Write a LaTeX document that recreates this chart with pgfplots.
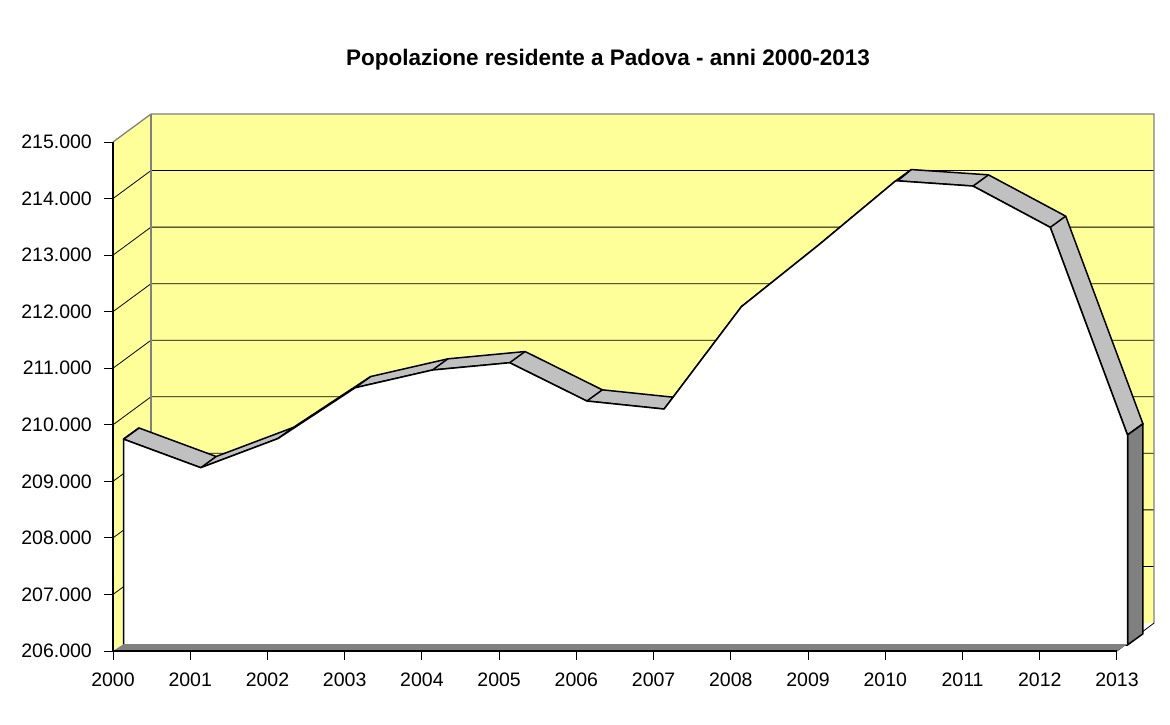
\documentclass[border=0pt]{standalone}
\usepackage{pgfplots}
\pgfplotsset{compat=1.18}
\usepgfplotslibrary{fillbetween}
\usepackage{pgfplotstable}
\usepackage{fontspec}
\setmainfont{Liberation Sans}

\definecolor{wall}{HTML}{FFFF99}
\definecolor{ribbon}{HTML}{C0C0C0}
\definecolor{side}{HTML}{808080}

% popolazione in migliaia
\pgfplotstableread{
anno pop
2000 209.640
2001 209.135
2002 209.650
2003 210.549
2004 210.862
2005 210.991
2006 210.314
2007 210.172
2008 211.981
2009 213.072
2010 214.209
2011 214.115
2012 213.385
2013 209.713
}\popdata

\begin{document}
\begin{tikzpicture}[x=1pt,y=1pt]
\node[anchor=base, inner sep=0pt, font=\fontsize{22.5}{27}\selectfont\bfseries]
  at (608,658) {Popolazione residente a Padova - anni 2000-2013};
\begin{axis}[
  at={(113pt,73pt)}, anchor=south west,
  scale only axis, width=1004pt, height=509pt,
  xmin=2000, xmax=2013, ymin=206, ymax=215,
  clip=false, axis on top,
  fill between/on layer=main,
  axis x line*=bottom, axis y line*=left,
  axis line style={-, black, line width=1.3pt},
  every outer x axis line/.append style={-},
  every outer y axis line/.append style={-},
  every inner x axis line/.append style={-},
  every inner y axis line/.append style={-},
  tick align=outside, major tick length=9pt,
  tick style={black, line width=1pt},
  xtick={2000,2001,...,2013},
  xticklabels={2000,2001,2002,2003,2004,2005,2006,2007,2008,2009,2010,2011,2012,2013},
  ytick={206,207,...,215},
  yticklabels={206.000,207.000,208.000,209.000,210.000,211.000,212.000,213.000,214.000,215.000},
  ticklabel style={font=\fontsize{19.5}{23}\selectfont, inner sep=0pt},
  yticklabel style={xshift=-12pt},
  xticklabel style={yshift=-13pt},
]
% pareti
\fill[wall] (axis cs:2000,206) -- (axis cs:2000,215) -- (axis cs:2000.492,215.495)
  -- (axis cs:2000.492,206.495) -- cycle;
\fill[wall] (axis cs:2000.492,206.495) rectangle (axis cs:2013.48,215.495);
\pgfplotsinvokeforeach{207,208,...,214}{
  \draw[black, line width=0.8pt] (axis cs:2000,#1) -- (axis cs:2000.492,#1.495)
    -- (axis cs:2013.48,#1.495);
}
\draw[side, line width=1.3pt] (axis cs:2000,215) -- (axis cs:2000.492,215.495)
  -- (axis cs:2013.48,215.495) -- (axis cs:2013.48,206.495);
\draw[side, line width=1.3pt] (axis cs:2000.492,215.495) -- (axis cs:2000.492,206.495);
\draw[black, line width=0.8pt] (axis cs:2013,206) -- (axis cs:2013.48,206.495);

% serie
\addplot[draw=none, name path=front, forget plot]
  table[x expr=\thisrow{anno}+0.136, y expr=\thisrow{pop}+0.106] {\popdata};
\addplot[draw=none, name path=back, forget plot]
  table[x expr=\thisrow{anno}+0.336, y expr=\thisrow{pop}+0.304] {\popdata};
\addplot[draw=none, name path=base, forget plot]
  coordinates {(2000.136,206.106) (2013.136,206.106)};

\addplot[fill=ribbon, draw=black, line width=1.5pt, line join=round]
  fill between[of=front and back];
\addplot[-, black, line width=1.5pt, no marks, quiver={u=0.2, v=0.198}]
  table[x expr=\thisrow{anno}+0.136, y expr=\thisrow{pop}+0.106] {\popdata};
\addplot[fill=side, draw=black, line width=1.5pt, line join=round]
  coordinates {(2013.136,209.819) (2013.336,210.017) (2013.336,206.304) (2013.136,206.106)} -- cycle;
\addplot[fill=white, draw=black, line width=1.5pt, line join=round]
  fill between[of=front and base];
\fill[side] (axis cs:2000,206) -- (axis cs:2013,206) -- (axis cs:2013.136,206.12)
  -- (axis cs:2000.136,206.12) -- cycle;
\end{axis}
\path (0,0) rectangle (1170,724);
\end{tikzpicture}
\end{document}
